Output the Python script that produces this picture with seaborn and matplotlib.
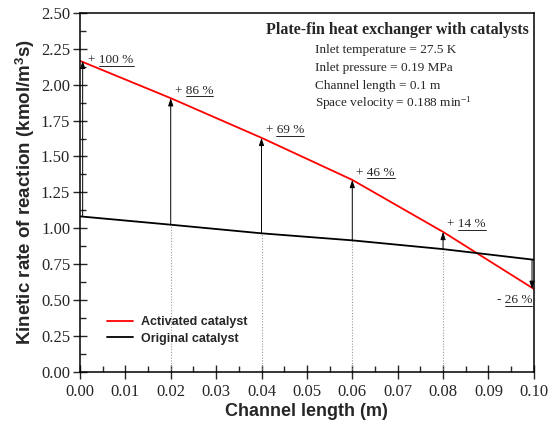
import matplotlib
matplotlib.use("Agg")
import matplotlib.pyplot as plt
import seaborn as sns
import pandas as pd
import numpy as np
from matplotlib.ticker import MultipleLocator, FormatStrFormatter
from matplotlib.lines import Line2D

# ---- data ----
channel_length = [0.00, 0.02, 0.04, 0.06, 0.08, 0.10]
activated = [2.166, 1.906, 1.630, 1.337, 0.975, 0.578]
original = [1.083, 1.025, 0.965, 0.916, 0.855, 0.781]
changes = ["+ 100 %", "+ 86 %", "+ 69 %", "+ 46 %", "+ 14 %", "- 26 %"]
series_names = ["Activated catalyst", "Original catalyst"]
info_lines = ["Inlet temperature = 27.5 K",
              "Inlet pressure = 0.19 MPa",
              "Channel length = 0.1 m",
              "Space velocity = 0.188 min$^{\\mathregular{-1}}$"]
title_text = "Plate-fin heat exchanger with catalysts"

sns.set_style("ticks")
plt.rcParams["font.family"] = ["Liberation Serif", "DejaVu Serif"]
plt.rcParams["mathtext.fontset"] = "custom"
plt.rcParams["mathtext.rm"] = "Liberation Serif"
plt.rcParams["mathtext.it"] = "Liberation Serif:italic"
plt.rcParams["mathtext.bf"] = "Liberation Serif:bold"

df = pd.DataFrame({
    "x": channel_length * 2,
    "y": activated + original,
    "series": [series_names[0]] * len(activated) + [series_names[1]] * len(original),
})

fig = plt.figure(figsize=(5.59, 4.28), dpi=100)
ax = fig.add_axes([0.143, 0.131, 0.812, 0.839])

sns.lineplot(data=df, x="x", y="y", hue="series",
             palette={series_names[0]: "#ff0000", series_names[1]: "#000000"},
             linewidth=1.3, ax=ax, legend=True, sort=True)

ax.set_xlim(0, 0.10)
ax.set_ylim(0, 2.5)

# dotted verticals and arrows
n = len(channel_length)
labels = []
for i, (x, ya, yo, lab) in enumerate(zip(channel_length, activated, original, changes)):
    xa = x
    if i == 0:
        xa = x + 0.0006
    elif i == n - 1:
        xa = x - 0.0004
    if 0 < i < n - 1:
        ax.plot([x, x], [0, yo], color="#999999", linestyle=(0, (1, 1.5)), linewidth=0.8, zorder=1)
    ax.annotate("", xy=(xa, ya), xytext=(xa, yo),
                arrowprops=dict(arrowstyle="-|>,head_length=0.45,head_width=0.15",
                                color="black", lw=0.7, shrinkA=0, shrinkB=0), zorder=2)
    if i == n - 1:
        t = ax.annotate(lab, xy=(x, ya), xytext=(-1, -4), textcoords="offset points",
                        ha="right", va="top", fontsize=9.5)
    elif i == 0:
        t = ax.annotate(lab, xy=(x, ya), xytext=(6, -4),
                        textcoords="offset points", ha="left", va="bottom", fontsize=9.5)
    else:
        t = ax.annotate(lab, xy=(x, ya), xytext=(3, 1),
                        textcoords="offset points", ha="left", va="bottom", fontsize=9.5)
    labels.append(t)

# ticks
ax.xaxis.set_major_locator(MultipleLocator(0.01))
ax.xaxis.set_minor_locator(MultipleLocator(0.005))
ax.yaxis.set_major_locator(MultipleLocator(0.25))
ax.yaxis.set_minor_locator(MultipleLocator(0.125))
ax.xaxis.set_major_formatter(FormatStrFormatter("%.2f"))
ax.yaxis.set_major_formatter(FormatStrFormatter("%.2f"))
ax.tick_params(which="major", direction="inout", length=10, width=1.0, labelsize=12)
ax.tick_params(which="minor", direction="in", length=4, width=1.0)
ax.tick_params(top=False, right=False, which="both")
ax.tick_params(axis="y", which="major", pad=2)
ax.tick_params(axis="x", which="major", pad=4)
for s in ax.spines.values():
    s.set_linewidth(1.1)
    s.set_color("black")

ax.set_xlabel("Channel length (m)", fontsize=13, fontweight="bold",
              family=["Liberation Sans", "DejaVu Sans"], labelpad=2)
ax.set_ylabel("Kinetic rate of reaction (kmol/m$^\\mathregular{3}$s)", fontsize=13.5, fontweight="bold",
              family=["Liberation Sans", "DejaVu Sans"], labelpad=3)

# title and info text
ax.text(0.988, 0.952, title_text, transform=ax.transAxes, ha="right", va="center",
        fontsize=11.5, fontweight="bold")
for k, line in enumerate(info_lines):
    ax.text(0.517, 0.897 - k * 0.050, line, transform=ax.transAxes, ha="left", va="center",
            fontsize=9.5)

leg = ax.legend(loc="lower left", bbox_to_anchor=(0.035, 0.045), frameon=False,
                prop={"family": ["Liberation Sans", "DejaVu Sans"], "weight": "bold", "size": 9},
                handlelength=2.1, handletextpad=0.6, labelspacing=0.35, title=None)

# underline the numeric part of each change label
fig.canvas.draw()
renderer = fig.canvas.get_renderer()
for t, lab in zip(labels, changes):
    bb = t.get_window_extent(renderer)
    prefix = lab.split(" ", 1)[0] + " "
    tmp = fig.text(0, 0, prefix, fontsize=9.5)
    pw = tmp.get_window_extent(renderer).width
    tmp.remove()
    x0, x1 = bb.x0 + pw, bb.x1
    yline = bb.y0 + 0.5
    inv = fig.transFigure.inverted()
    (fx0, fy), (fx1, _) = inv.transform([(x0, yline), (x1, yline)])
    fig.add_artist(Line2D([fx0, fx1], [fy, fy], transform=fig.transFigure,
                          color="black", linewidth=0.6))

fig.savefig("out.png", dpi=100)
